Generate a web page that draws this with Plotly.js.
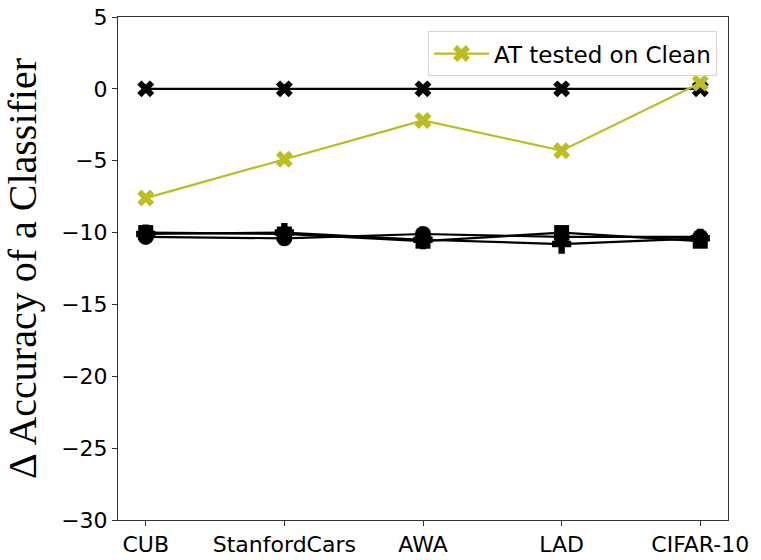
<!DOCTYPE html>
<html>
<head>
<meta charset="utf-8">
<script src="https://cdn.plot.ly/plotly-3.0.1.min.js"></script>
<style>html,body{margin:0;padding:0;background:#fff;}#chart{width:761px;height:560px;}</style>
</head>
<body>
<div id="chart"></div>
<script>
const categories = ["CUB", "StanfordCars", "AWA", "LAD", "CIFAR-10"];
const atClean = [-7.6, -4.9, -2.2, -4.3, 0.4];
const baseline = [0, 0, 0, 0, 0];
const seriesSquare = [-10.0, -10.1, -10.6, -10.0, -10.6];
const seriesCircle = [-10.3, -10.4, -10.1, -10.3, -10.3];
const seriesPlus = [-10.1, -10.0, -10.5, -10.8, -10.4];
const yTicks = [5, 0, -5, -10, -15, -20, -25, -30];

const xIdx = categories.map((c, i) => i);

function blackTrace(y, symbol, size) {
  return {
    x: xIdx, y: y, type: "scatter", mode: "lines+markers",
    line: {color: "#000000", width: 2.2},
    marker: {symbol: symbol, size: size, color: "#000000"},
    showlegend: false, hoverinfo: "skip"
  };
}

const traces = [
  blackTrace(baseline, "x", 15),
  blackTrace(seriesSquare, "square", 15),
  blackTrace(seriesCircle, "circle", 16),
  blackTrace(seriesPlus, "cross", 16),
  {
    x: xIdx, y: atClean, type: "scatter", mode: "lines+markers",
    name: "AT tested on Clean",
    line: {color: "#bcbd22", width: 2.2},
    marker: {symbol: "x", size: 15, color: "#bcbd22"}
  }
];

const layout = {
  width: 761, height: 560,
  margin: {l: 118, r: 33, t: 17, b: 40},
  paper_bgcolor: "#ffffff", plot_bgcolor: "#ffffff",
  font: {family: "DejaVu Sans, sans-serif", size: 22, color: "#000000"},
  showlegend: true,
  legend: {
    x: 0.982, xanchor: "right", y: 0.972, yanchor: "top",
    itemwidth: 55,
    bgcolor: "rgba(255,255,255,0.8)", bordercolor: "#d6d6d6", borderwidth: 1,
    font: {family: "DejaVu Sans, sans-serif", size: 23, color: "#000000"}
  },
  xaxis: {
    range: [-0.2, 4.2],
    tickmode: "array", tickvals: xIdx, ticktext: categories,
    showgrid: false, zeroline: false,
    showline: true, linecolor: "#333333", linewidth: 1, mirror: true,
    ticks: "outside", ticklen: 5, tickcolor: "#333333",
    tickfont: {family: "DejaVu Sans, sans-serif", size: 22, color: "#000000"}
  },
  yaxis: {
    range: [-30, 5],
    tickmode: "array", tickvals: yTicks,
    showgrid: false, zeroline: false,
    showline: true, linecolor: "#333333", linewidth: 1, mirror: true,
    ticks: "outside", ticklen: 5, tickcolor: "#333333",
    tickfont: {family: "DejaVu Sans, sans-serif", size: 22, color: "#000000"},
    title: {
      text: "Δ Accuracy of a Classifier",
      font: {family: "Liberation Serif, Times New Roman, serif", size: 40, color: "#000000"},
      standoff: 18
    }
  }
};

Plotly.newPlot("chart", traces, layout, {displayModeBar: false, staticPlot: true});
</script>
</body>
</html>
